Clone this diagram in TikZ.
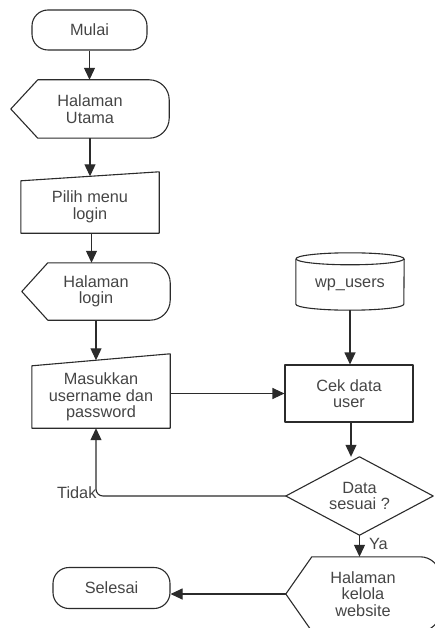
\documentclass[tikz,border=0pt]{standalone}
\usepackage{fontspec}
\setmainfont{Liberation Sans}
\usetikzlibrary{arrows.meta,calc}
\definecolor{linegray}{HTML}{2B2B2B}
\definecolor{txtgray}{HTML}{454545}
\newcommand\dispshape[2]{%
  \draw[shp] (#1.west) -- ($(#1.north west)+(#2,0)$) -- ($(#1.north east)+(-20,0)$)
    arc[start angle=-90,end angle=0,radius=20] -- ($(#1.south east)+(0,-20)$)
    arc[start angle=0,end angle=90,radius=20] -- ($(#1.south west)+(#2,0)$) -- cycle;}
\tikzset{
  lbl/.style={font=\fontsize{16.3}{16.5}\selectfont, text=txtgray, align=center, inner sep=0pt},
  shp/.style={draw=linegray, line width=1.1pt, line join=round},
  arr/.style={draw=linegray, line width=1.1pt, -{Triangle[length=12pt,width=11pt]}},
  bnd/.style 2 args={lbl, minimum width=#1, minimum height=#2},
  term/.style={lbl, shp, rounded corners=16pt}
}
\begin{document}
\begin{tikzpicture}[x=1pt,y=-1pt]
\useasboundingbox (0,0) rectangle (434,628);

% nodes
\node[term, minimum width=115pt, minimum height=40pt] (mulai) at (89.5,30) {Mulai};
\node[bnd={158pt}{58pt}] (hu) at (90,109) {Halaman\\Utama};
\dispshape{hu}{27}
\node[bnd={138pt}{52pt}] (p) at (90,207) {Pilih menu\\login};
\draw[shp] (p.north west) -- ($(p.north east)+(0,-9)$) -- (p.south east) -- (p.south west) -- cycle;
\node[bnd={148pt}{57pt}] (hl) at (96,291.5) {Halaman\\login};
\dispshape{hl}{26}
\node[bnd={138pt}{62pt}] (m) at (101,397) {Masukkan\\username dan\\password};
\draw[shp] (m.north west) -- ($(m.north east)+(0,-12)$) -- (m.south east) -- (m.south west) -- cycle;

\node[bnd={108pt}{51pt}] (db) at (350,284.5) {wp\_users};
\draw[shp] (db.north west) -- ($(db.south west)+(0,-6)$)
  arc[start angle=180,end angle=0,x radius=54,y radius=6] -- (db.north east);
\draw[shp] (db.north) ellipse[x radius=54,y radius=6];

\node[bnd={128pt}{57pt}, shp] (c) at (349,393.5) {Cek data\\user};
\node[bnd={147pt}{78pt}] (d) at (359.5,496) {Data\\sesuai ?};
\draw[shp] (d.north) -- (d.east) -- (d.south) -- (d.west) -- cycle;
\node[bnd={154pt}{74pt}] (hk) at (363,594) {Halaman\\kelola\\website};
\dispshape{hk}{26}
\node[term, minimum width=117pt, minimum height=41pt] (s) at (111.5,588) {Selesai};

% connectors
\draw[arr] (mulai.south) -- (mulai.south |- hu.north);
\draw[arr] (hu.south) -- ($(hu.south |- p.north)+(0,-4.5)$);
\draw[arr] ($(p.south)+(1.5,0)$) -- ($(p.south |- hl.north)+(1.5,0)$);
\draw[arr] (hl.south) -- ($(hl.south |- m.north)+(0,-5.5)$);
\draw[arr] (m.east |- c.west) -- (c.west);
\draw[arr] (db.south) -- (db.south |- c.north);
\draw[arr] ($(c.south)+(2,0)$) -- ($(c.south |- d.north)+(2,0)$);
\draw[arr] (d.south) -- (d.south |- hk.north)
  node[lbl, anchor=west, pos=0.39, xshift=9pt] {Ya};
\draw[arr, rounded corners=7pt] (d.west) -- (d.west -| hl.south)
  node[lbl, anchor=east, xshift=1pt, yshift=3pt] {Tidak}
  -- (hl.south |- m.south);
\draw[arr] (hk.west) -- (hk.west -| s.east);
\end{tikzpicture}
\end{document}
